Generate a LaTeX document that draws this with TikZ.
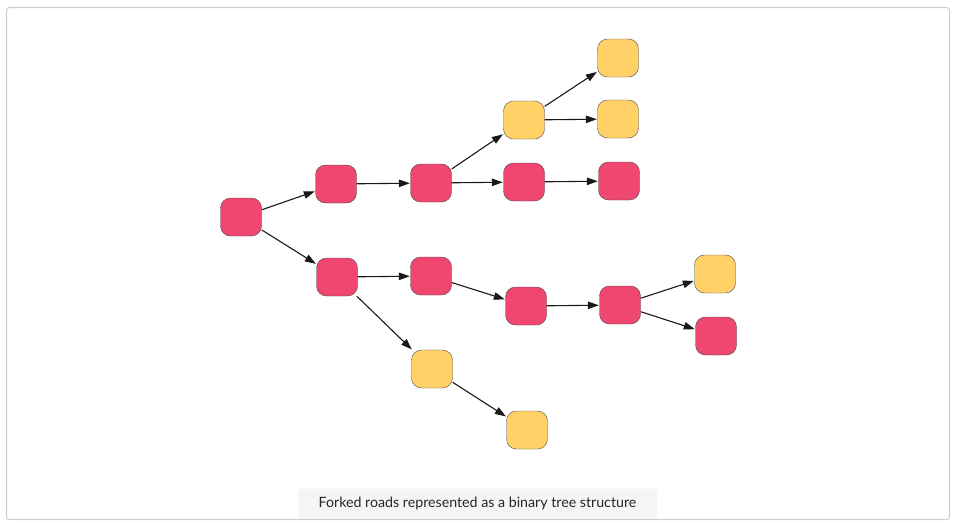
\documentclass[tikz,border=0pt]{standalone}
\usepackage{fontspec}
\setmainfont{Lato}
\usetikzlibrary{arrows.meta}
\definecolor{roadpink}{HTML}{EF476F}
\definecolor{roadyellow}{HTML}{FFD166}
\tikzset{>={Triangle[length=11pt,width=7.5pt]}}
\tikzset{pnode/.style={draw=black!70,rounded corners=10pt,minimum width=41pt,minimum height=38pt,inner sep=0pt,fill=roadpink}}
\tikzset{ynode/.style={pnode,fill=roadyellow}}
\tikzset{ed/.style={->,line width=1.1pt,draw=black!90,shorten >=0.5pt}}
\begin{document}
\begin{tikzpicture}[x=1pt,y=-1pt]
        \useasboundingbox (0,0) rectangle (957,525);
        \draw[black!20,line width=1pt,rounded corners=3pt] (6.5,7.5) rectangle (949.5,519.5);

        \node[pnode] (r) at (241,217) {};

        \node[pnode] (a1) at (336,184) {};
        \node[pnode] (a2) at (431,183) {};
        \node[ynode] (a3y) at (524,120) {};
        \node[ynode] (a4y) at (618,58) {};
        \node[ynode] (a4y') at (618,119) {};
        \node[pnode] (a3) at (524,182) {};
        \node[pnode] (a4) at (619,181) {};

        \node[pnode] (b1) at (337,277) {};
        \node[pnode] (b2) at (431,276) {};
        \node[pnode] (b3) at (526,306) {};
        \node[pnode] (b4) at (620,305) {};
        \node[ynode] (b5y) at (715,274) {};
        \node[pnode] (b5) at (716,336) {};

        \node[ynode] (c1) at (432,369) {};
        \node[ynode] (c2) at (527,430) {};

        \draw[ed] (r) -- (a1);
        \draw[ed] (r) -- (b1);
        \draw[ed] (a1) -- (a2);
        \draw[ed] (a2) -- (a3y);
        \draw[ed] (a2) -- (a3);
        \draw[ed] (a3y) -- (a4y);
        \draw[ed] (a3y) -- (a4y');
        \draw[ed] (a3) -- (a4);
        \draw[ed] (b1) -- (b2);
        \draw[ed] (b1) -- (c1);
        \draw[ed] (c1) -- (c2);
        \draw[ed] (b2) -- (b3);
        \draw[ed] (b3) -- (b4);
        \draw[ed] (b4) -- (b5y);
        \draw[ed] (b4) -- (b5);

        \node[fill=black!4,rounded corners=2pt,minimum width=359pt,minimum height=30pt,font=\fontsize{14.2}{16}\selectfont,text=black!85] (cap) at (477.5,503.5) {Forked roads represented as a binary tree structure};
\end{tikzpicture}
\end{document}
